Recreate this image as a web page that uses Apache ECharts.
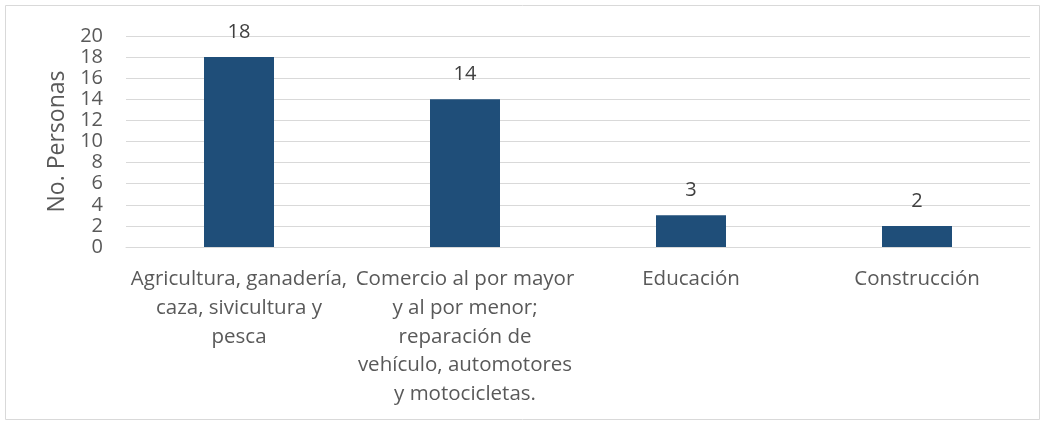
<!DOCTYPE html>
<html>
<head>
<meta charset="utf-8">
<script src="https://cdn.jsdelivr.net/npm/echarts@6/dist/echarts.min.js"></script>
<style>
  html, body { margin: 0; padding: 0; background: #fff; }
  #graph { width: 1046px; height: 424px; }
</style>
</head>
<body>
<div id="graph"></div>
<script>
var categories = [
  'Agricultura, ganadería,\ncaza, sivicultura y\npesca',
  'Comercio al por mayor\ny al por menor;\nreparación de\nvehículo, automotores\ny motocicletas.',
  'Educación',
  'Construcción'
];
var personas = [18, 14, 3, 2];
var yTicks = { min: 0, max: 20, step: 2 };

var fontFam = '"Open Sans", "Noto Sans", sans-serif';
var txtColor = '#595959';

var myChart = echarts.init(document.getElementById('graph'));

var option = {
  animation: false,
  textStyle: { fontFamily: fontFam },
  graphic: [{
    type: 'rect',
    shape: { x: 5.5, y: 5.5, width: 1034, height: 414 },
    style: { fill: 'none', stroke: '#d9d9d9', lineWidth: 1 },
    silent: true
  }],
  grid: { left: 126, right: 16, top: 36, bottom: 177 },
  xAxis: {
    type: 'category',
    data: categories,
    axisTick: { show: false },
    axisLine: { lineStyle: { color: '#d9d9d9', width: 1 } },
    axisLabel: {
      interval: 0,
      margin: 18,
      color: txtColor,
      fontSize: 20.5,
      lineHeight: 28.7,
      fontFamily: fontFam
    }
  },
  yAxis: {
    type: 'value',
    min: yTicks.min,
    max: yTicks.max,
    interval: yTicks.step,
    name: 'No. Personas',
    nameLocation: 'middle',
    nameGap: 56,
    nameTextStyle: { color: txtColor, fontSize: 23, fontFamily: fontFam },
    axisLine: { show: false },
    axisTick: { show: false },
    axisLabel: { color: txtColor, fontSize: 20, margin: 23, fontFamily: fontFam },
    splitLine: { lineStyle: { color: '#d9d9d9', width: 1 } }
  },
  series: [{
    type: 'bar',
    data: personas,
    barWidth: 70,
    itemStyle: { color: '#1f4e79' },
    label: {
      show: true,
      position: 'top',
      distance: 15,
      color: '#404040',
      fontSize: 20,
      fontFamily: fontFam
    }
  }]
};

myChart.setOption(option);
</script>
</body>
</html>
